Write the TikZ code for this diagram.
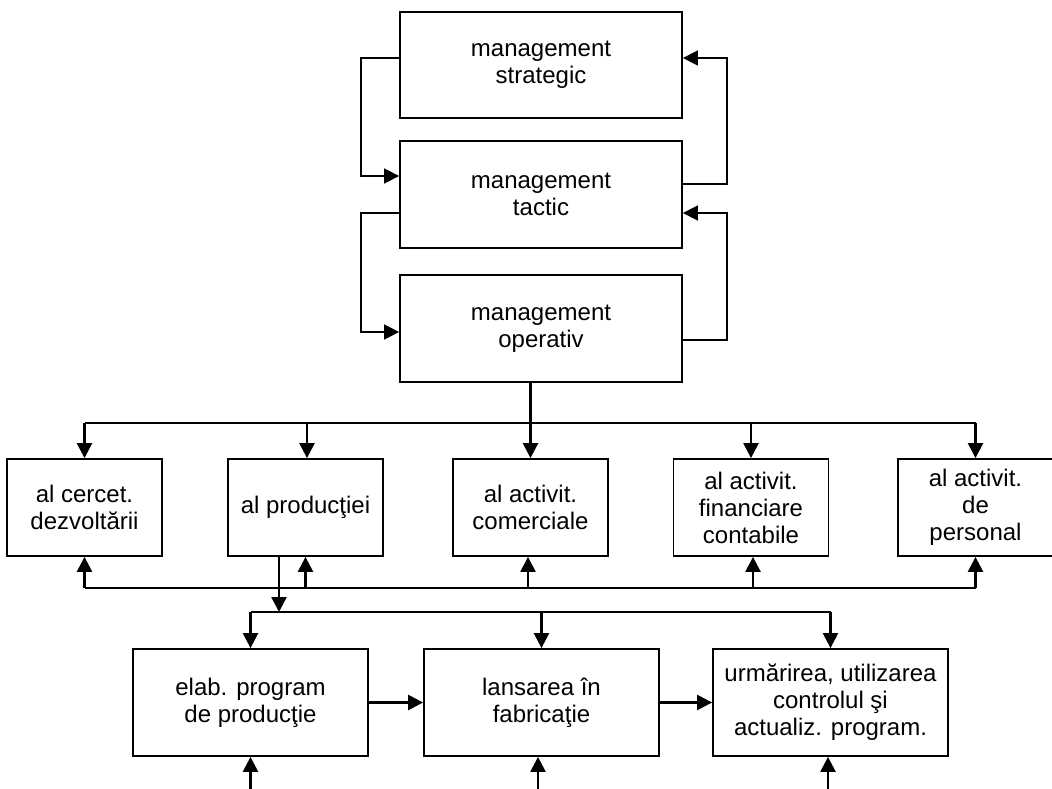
\documentclass[tikz,border=0pt]{standalone}
\usepackage{fontspec}
\setmainfont{Liberation Sans}
\usetikzlibrary{arrows.meta}
\begin{document}
\begin{tikzpicture}[x=1pt,y=-1pt]
    \tikzstyle{arrow} = [line width=2.4pt,-{Triangle[length=15pt,width=15pt]}]
    \tikzstyle{loop} = [line width=1.6pt,-{Triangle[length=15pt,width=15pt]}]
    \tikzstyle{bus} = [line width=2.2pt]
    \tikzstyle{box} = [draw, line width=1.8pt, rectangle, inner sep=0pt, align=center, font=\fontsize{24}{27}\selectfont]
    \useasboundingbox (0,0) rectangle (1052,789);

    % Management levels
    \node [box, minimum width=282, minimum height=106] (Strategic) at (541,65) {management\\strategic};
    \node [box, minimum width=282, minimum height=107] (Tactic) at (541,194.5) {management\\tactic};
    \node [box, minimum width=282, minimum height=107] (Operativ) at (541,328.5) {management\\operativ};

    % Left loops
    \draw [loop] ([yshift=7pt]Strategic.west) -- ++(-38,0) |- ([yshift=18.5pt]Tactic.west);
    \draw [loop] ([yshift=-18.5pt]Tactic.west) -- ++(-38,0) |- ([yshift=-3.5pt]Operativ.west);

    % Right loops
    \draw [loop] ([yshift=10.5pt]Tactic.east) -- ++(44,0) |- ([yshift=7pt]Strategic.east);
    \draw [loop] ([yshift=-11.5pt]Operativ.east) -- ++(44,0) |- ([yshift=-18.5pt]Tactic.east);

    % Functional areas
    \node [box, minimum width=155, minimum height=97] (Research) at (84.5,507.5) {al cercet.\\dezvoltării};
    \node [box, minimum width=155, minimum height=97] (Production) at (305.5,507.5) {al producţiei};
    \node [box, minimum width=155, minimum height=97] (Commercial) at (530.5,507.5) {al activit.\\comerciale};
    \node [box, minimum width=155, minimum height=97] (Financial) at (751,507.5) {al activit.\\financiare\\contabile};
    \node [box, minimum width=155, minimum height=97] (Personnel) at (975.5,507.5) {al activit.\\de\\personal};

    % Upper bus
    \coordinate (TopBus) at (0,423);
    \draw [bus] (Research |- TopBus) -- (Personnel |- TopBus);
    \draw [arrow] (Operativ.south -| Commercial) -- (Commercial.north);
    \draw [arrow] (Research |- TopBus) -- (Research.north);
    \draw [arrow] ([xshift=1.5pt]Production.north |- TopBus) -- ([xshift=1.5pt]Production.north);
    \draw [arrow] (Financial |- TopBus) -- (Financial.north);
    \draw [arrow] (Personnel |- TopBus) -- (Personnel.north);

    % Lower bus
    \coordinate (LowBus) at (0,588);
    \draw [bus] (Research |- LowBus) -- (Personnel |- LowBus);
    \draw [arrow] (Research |- LowBus) -- (Research.south);
    \draw [arrow] (Production |- LowBus) -- (Production.south);
    \draw [arrow] ([xshift=-2.5pt]Commercial.south |- LowBus) -- ([xshift=-2.5pt]Commercial.south);
    \draw [arrow] ([xshift=2pt]Financial.south |- LowBus) -- ([xshift=2pt]Financial.south);
    \draw [arrow] (Personnel |- LowBus) -- (Personnel.south);

    % Production steps
    \node [box, minimum width=235, minimum height=107] (Program) at (250.5,702.5) {elab. program\\de producţie};
    \node [box, minimum width=235, minimum height=107] (Launch) at (541.5,702.5) {lansarea în\\fabricaţie};
    \node [box, minimum width=235, minimum height=107] (Tracking) at (830.5,702.5) {urmărirea, utilizarea\\controlul şi\\actualiz. program.};

    % Production bus
    \coordinate (ProdBus) at (0,612);
    \draw [arrow] ([xshift=-26.5pt]Production.south) -- ([xshift=-26.5pt]Production.south |- ProdBus);
    \draw [bus] (Program |- ProdBus) -- (Tracking |- ProdBus);
    \draw [arrow] (Program |- ProdBus) -- (Program.north);
    \draw [arrow] (Launch |- ProdBus) -- (Launch.north);
    \draw [arrow] (Tracking |- ProdBus) -- (Tracking.north);

    % Sequence
    \draw [arrow] (Program.east) -- (Launch.west);
    \draw [arrow] (Launch.east) -- (Tracking.west);

    % Inputs from below
    \coordinate (Bottom) at (0,789);
    \draw [arrow] (Program |- Bottom) -- (Program.south);
    \draw [arrow] ([xshift=-3.5pt]Launch.south |- Bottom) -- ([xshift=-3.5pt]Launch.south);
    \draw [arrow] ([xshift=-2.5pt]Tracking.south |- Bottom) -- ([xshift=-2.5pt]Tracking.south);
\end{tikzpicture}
\end{document}
